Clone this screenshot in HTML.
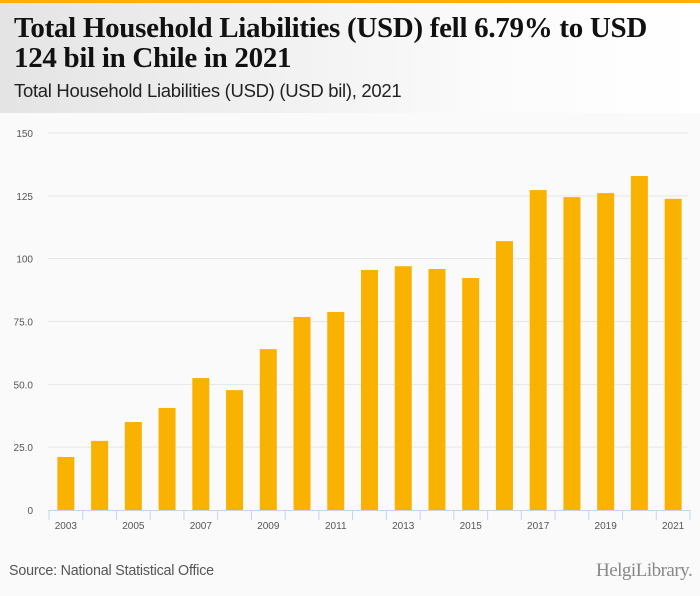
<!DOCTYPE html>
<html><head><meta charset="utf-8"><style>
body{margin:0;width:700px;height:596px;background:#fafafa;font-family:"Liberation Sans",sans-serif;overflow:hidden;position:relative}
#hdr{position:absolute;left:0;top:3px;width:700px;height:110px;background:linear-gradient(90deg,#e4e4e4,#fbfbfb 70%,#fff)}
#bar{position:absolute;left:0;top:0;width:700px;height:3px;background:#f9b200}
h1{position:absolute;left:14px;top:13px;margin:0;font-family:"Liberation Serif",serif;font-size:29px;line-height:30px;font-weight:bold;color:#111;letter-spacing:-0.3px;white-space:nowrap}
#sub{position:absolute;left:14px;top:80px;font-size:18.5px;color:#222;letter-spacing:-0.3px}
#src{position:absolute;left:9px;top:563px;font-size:14.3px;color:#555;letter-spacing:-0.2px}
#logo{position:absolute;left:596px;top:560px;font-family:"Liberation Serif",serif;font-size:19px;color:#888;letter-spacing:-0.5px}
</style></head><body>
<div id="bar"></div>
<div id="hdr"></div>
<h1>Total Household Liabilities (USD) fell 6.79% to USD<br>124 bil in Chile in 2021</h1>
<div id="sub">Total Household Liabilities (USD) (USD bil), 2021</div>
<svg id="chart" width="700" height="596" style="position:absolute;left:0;top:0"></svg>
<div id="src">Source: National Statistical Office</div>
<div id="logo">HelgiLibrary.</div>
<script>
const years=[2003,2004,2005,2006,2007,2008,2009,2010,2011,2012,2013,2014,2015,2016,2017,2018,2019,2020,2021];
const values=[21.1,27.5,35,40.6,52.5,47.7,64,76.8,78.8,95.5,97,95.9,92.3,107,127.3,124.5,126.1,132.9,123.8];
const yTicks=[0,25,50,75,100,125,150];
const yTickLabels=["0","25.0","50.0","75.0","100","125","150"];
const svg=document.getElementById('chart');const NS='http://www.w3.org/2000/svg';
const x0=49,x1=690,y0=510,y1=133,yMax=150;
const bw=(x1-x0)/years.length;
const ys=v=>y0-(v/yMax)*(y0-y1);
const xs=i=>x0+bw*i+bw/2;
function mk(t,a){const e=document.createElementNS(NS,t);for(const k in a)e.setAttribute(k,a[k]);svg.appendChild(e);return e;}
yTicks.forEach((t,i)=>{
 if(t>0){const g=mk('line',{x1:48,x2:688,y1:ys(t),y2:ys(t),stroke:'#e6e6e6','stroke-width':1});
 
 }
 const l=mk('text',{x:33,y:ys(t)+4,'text-anchor':'end','font-size':10,fill:'#555','font-family':'Liberation Sans, sans-serif'});
 l.textContent=yTickLabels[i];
 
 
});
values.forEach((v,i)=>{
 const r=mk('rect',{x:xs(i)-8.5,y:ys(v),width:17,height:y0-ys(v),fill:'#f9b200'});
 
 
});
const ax=mk('line',{x1:48,x2:x1,y1:y0+.5,y2:y0+.5,stroke:'#c8d4e6','stroke-width':1});


for(let i=0;i<=years.length;i++){
 const t=mk('line',{x1:x0+bw*i,x2:x0+bw*i,y1:y0,y2:y0+10,stroke:'#c8d4e6','stroke-width':1});
 
 
}
years.forEach((yr,i)=>{if(i%2)return;
 const l=mk('text',{x:xs(i),y:y0+19,'text-anchor':'middle','font-size':10,fill:'#555','font-family':'Liberation Sans, sans-serif'});
 l.textContent=yr;
 
 
});
</script>
</body></html>
